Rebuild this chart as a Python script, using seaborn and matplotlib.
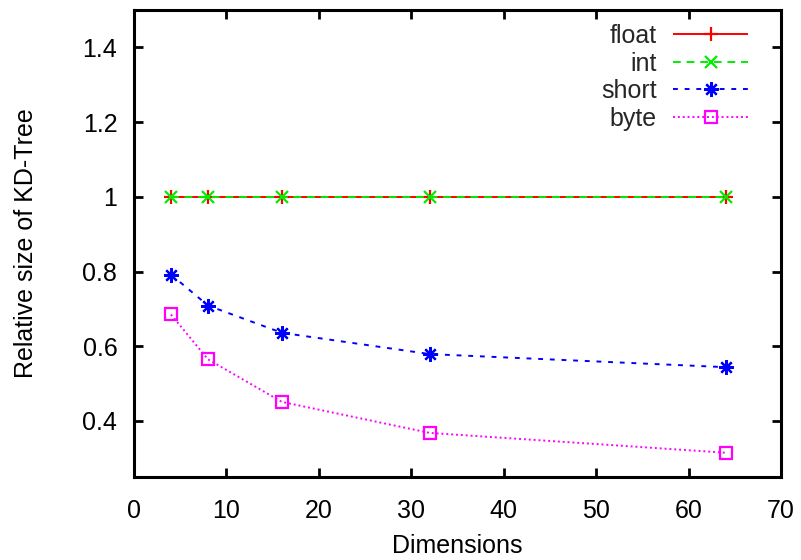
import matplotlib
matplotlib.use("Agg")
import matplotlib.pyplot as plt
import seaborn as sns
import pandas as pd

dims = [4, 8, 16, 32, 64]
float_vals = [1.0, 1.0, 1.0, 1.0, 1.0]
int_vals = [1.0, 1.0, 1.0, 1.0, 1.0]
short_vals = [0.792, 0.709, 0.636, 0.579, 0.544]
byte_vals = [0.685, 0.565, 0.451, 0.368, 0.315]

sns.set_theme(style="white")
plt.rcParams['font.family'] = ['Liberation Sans', 'DejaVu Sans']

FS = 18

fig = plt.figure(figsize=(8.01, 5.6), dpi=100)
ax = fig.add_axes([134/801, 1-477/560, 647/801, 467/560])

series = [
    ("float", float_vals, "#ff0000", (0, ()), "+", dict(markersize=9.5, markeredgewidth=1.6, markerfacecolor="none")),
    ("int", int_vals, "#00ee00", (0, (4, 3)), "x", dict(markersize=9, markeredgewidth=1.6, markerfacecolor="none")),
    ("short", short_vals, "#0000ff", (0, (2.5, 3.5)), (8, 2, 0), dict(markersize=10.5, markeredgewidth=1.6)),
    ("byte", byte_vals, "#ff00ff", (0, (1, 1.5)), "s", dict(markersize=8.5, markeredgewidth=1.6, markerfacecolor="none")),
]
for name, vals, col, ls, mk, kw in series:
    df = pd.DataFrame({"dim": dims, "val": vals})
    sns.lineplot(data=df, x="dim", y="val", ax=ax, color=col, linestyle=ls,
                 marker=mk, markeredgecolor=col, linewidth=1.4, label=name, **kw)

ax.set_xlim(0, 70)
ax.set_ylim(0.25, 1.5)
ax.set_xticks([0, 10, 20, 30, 40, 50, 60, 70])
ax.set_yticks([0.4, 0.6, 0.8, 1.0, 1.2, 1.4])
ax.set_yticklabels(["0.4", "0.6", "0.8", "1", "1.2", "1.4"])
ax.tick_params(direction="in", length=6.5, width=2, labelsize=FS, color="black",
               top=True, right=True, bottom=True, left=True, labelcolor="black")
ax.tick_params(axis="x", pad=16)
ax.tick_params(axis="y", pad=12)
for s in ax.spines.values():
    s.set_color("black")
    s.set_linewidth(2.2)
ax.set_xlabel("Dimensions", fontsize=FS, color="black")
ax.set_ylabel("Relative size of KD-Tree", fontsize=FS, color="black")
ax.xaxis.set_label_coords(0.5, -0.122)
ax.yaxis.set_label_coords(-0.149, 0.5)
ax.legend(loc="upper right", bbox_to_anchor=(0.949, 0.970), frameon=False,
          markerfirst=False, fontsize=FS, numpoints=1,
          handlelength=3.0, borderpad=0, borderaxespad=0, labelspacing=0.14,
          handletextpad=0.65)

fig.savefig("out.png", dpi=100)
